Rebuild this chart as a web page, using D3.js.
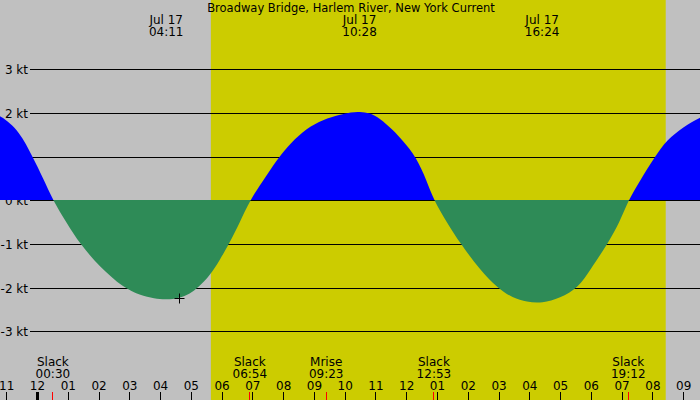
<!DOCTYPE html>
<html><head><meta charset="utf-8">
<script src="https://cdn.jsdelivr.net/npm/d3@7"></script>
<style>html,body{margin:0;padding:0;background:#c0c0c0;}svg{display:block;}</style>
</head><body><svg id="c" width="700" height="400"></svg>
<script>
// ---- data (hours from Jul 17 00:00) ----
const title = "Broadway Bridge, Harlem River, New York Current";
const curveHours = [-1.7, -1.22, -0.57, -0.17, 0.19, 0.5, 0.95, 1.38, 2.03, 2.79, 3.33, 3.8, 4.18, 4.6, 4.96, 5.22, 5.61, 5.93, 6.22, 6.58, 6.9, 7.45, 7.86, 8.21, 8.75, 9.28, 9.83, 10.2, 10.47, 10.8, 11.12, 11.55, 11.88, 12.3, 12.65, 12.88, 13.3, 13.75, 14.38, 14.94, 15.45, 15.9, 16.4, 16.98, 17.58, 17.96, 18.53, 18.93, 19.2, 19.58, 20.07, 20.45, 20.99, 21.53, 22.0];
const curveKnots = [2.02, 1.97, 1.57, 1.0, 0.5, 0.0, -0.52, -1.0, -1.53, -2.0, -2.17, -2.25, -2.28, -2.24, -2.14, -2.0, -1.72, -1.36, -1.0, -0.5, 0.0, 0.58, 1.0, 1.30, 1.65, 1.85, 1.96, 2.02, 2.03, 2.0, 1.88, 1.61, 1.36, 1.0, 0.45, 0.0, -0.5, -1.0, -1.59, -2.0, -2.24, -2.33, -2.36, -2.24, -2.0, -1.59, -1.0, -0.49, 0.0, 0.45, 1.0, 1.38, 1.68, 1.91, 2.0];
const speedTicks = [3, 2, 1, 0, -1, -2, -3];
const speedTickLabels = ["3 kt", "2 kt", "1 kt", "0 kt", "-1 kt", "-2 kt", "-3 kt"];
const hourTicks = [-1, 0, 1, 2, 3, 4, 5, 6, 7, 8, 9, 10, 11, 12, 13, 14, 15, 16, 17, 18, 19, 20, 21];
const hourTickLabels = ["11", "12", "01", "02", "03", "04", "05", "06", "07", "08", "09", "10", "11", "12", "01", "02", "03", "04", "05", "06", "07", "08", "09"];
const daylight = ["05:38", "20:25"];
const eventNames = ["Slack", "Slack", "Mrise", "Slack", "Slack"];
const eventTimes = ["00:30", "06:54", "09:23", "12:53", "19:12"];
const peakDates = ["Jul 17", "Jul 17", "Jul 17"];
const peakTimes = ["04:11", "10:28", "16:24"];
const markHour = [4.61];
const markKnots = [-2.24];

// ---- helpers ----
const toH = s => { const [h, m] = s.split(":").map(Number); return h + m / 60; };
const svg = d3.select("#c");
const W = 700, H = 400;
const font = "DejaVu Sans, sans-serif";

const x = d3.scaleLinear().domain([0, 22]).range([37.5, 37.5 + 30.77 * 22]);
const y = d3.scaleLinear().domain([-3, 3]).range([331.3, 69.3]);
const y0px = Math.round(y(0));

// background
svg.append("rect").attr("width", W).attr("height", H).attr("fill", "#c0c0c0");
svg.append("rect")
  .attr("x", x(toH(daylight[0]))).attr("y", 0)
  .attr("width", x(toH(daylight[1])) - x(toH(daylight[0]))).attr("height", H)
  .attr("fill", "#cccc00");

// grid lines
svg.append("g").selectAll("line").data(speedTicks).join("line")
  .attr("x1", 30).attr("x2", W)
  .attr("y1", d => Math.round(y(d)) + 0.5).attr("y2", d => Math.round(y(d)) + 0.5)
  .attr("stroke", "#000").attr("stroke-width", 1);

// speed labels
svg.append("g").selectAll("text").data(speedTicks).join("text")
  .attr("x", 28).attr("y", d => Math.round(y(d)) + 4.5)
  .attr("text-anchor", "end").attr("font-family", font).attr("font-size", 12)
  .text((d, i) => speedTickLabels[i]);

// curve
const pts = curveHours.map((h, i) => [h, curveKnots[i]]);
const defs = svg.append("defs");
defs.append("clipPath").attr("id", "above").append("rect").attr("x", 0).attr("y", 0).attr("width", W).attr("height", y0px);
defs.append("clipPath").attr("id", "below").append("rect").attr("x", 0).attr("y", y0px).attr("width", W).attr("height", H - y0px);
const area = d3.area().x(d => x(d[0])).y0(y0px).y1(d => y(d[1])).curve(d3.curveBasis);
svg.append("path").attr("d", area(pts)).attr("fill", "#0000ff").attr("clip-path", "url(#above)");
svg.append("path").attr("d", area(pts)).attr("fill", "#2e8b57").attr("clip-path", "url(#below)");

// marker +
markHour.forEach((h, i) => {
  const cx = Math.round(x(h)) + 0.5, cy = Math.round(y(markKnots[i])) + 0.5;
  svg.append("path").attr("d", `M${cx - 5},${cy}H${cx + 5}M${cx},${cy - 5}V${cy + 5}`)
    .attr("stroke", "#000").attr("stroke-width", 1);
});

// title
svg.append("text").attr("x", 351).attr("y", 12).attr("text-anchor", "middle")
  .attr("font-family", font).attr("font-size", 11.5).text(title);

// peak labels
peakTimes.forEach((t, i) => {
  const g = svg.append("g").attr("font-family", font).attr("font-size", 12).attr("text-anchor", "middle");
  g.append("text").attr("x", x(toH(t))).attr("y", 24).text(peakDates[i]);
  g.append("text").attr("x", x(toH(t))).attr("y", 36).text(t);
});

// hour ticks
svg.append("g").selectAll("line").data(hourTicks).join("line")
  .attr("x1", d => d === 0 ? x(d) : Math.floor(x(d)) + 0.5)
  .attr("x2", d => d === 0 ? x(d) : Math.floor(x(d)) + 0.5)
  .attr("y1", 392).attr("y2", H)
  .attr("stroke", "#000").attr("stroke-width", d => d === 0 ? 3 : 1);
svg.append("g").selectAll("text").data(hourTicks).join("text")
  .attr("x", d => x(d)).attr("y", 390).attr("text-anchor", "middle")
  .attr("font-family", font).attr("font-size", 12)
  .text((d, i) => hourTickLabels[i]);

// events
eventTimes.forEach((t, i) => {
  const ex = x(toH(t));
  svg.append("line").attr("x1", Math.floor(ex) + 0.5).attr("x2", Math.floor(ex) + 0.5)
    .attr("y1", 392).attr("y2", H).attr("stroke", "#ff0000").attr("stroke-width", 1);
  const g = svg.append("g").attr("font-family", font).attr("font-size", 12).attr("text-anchor", "middle");
  g.append("text").attr("x", ex).attr("y", 366).text(eventNames[i]);
  g.append("text").attr("x", ex).attr("y", 378).text(t);
});
</script></body></html>
